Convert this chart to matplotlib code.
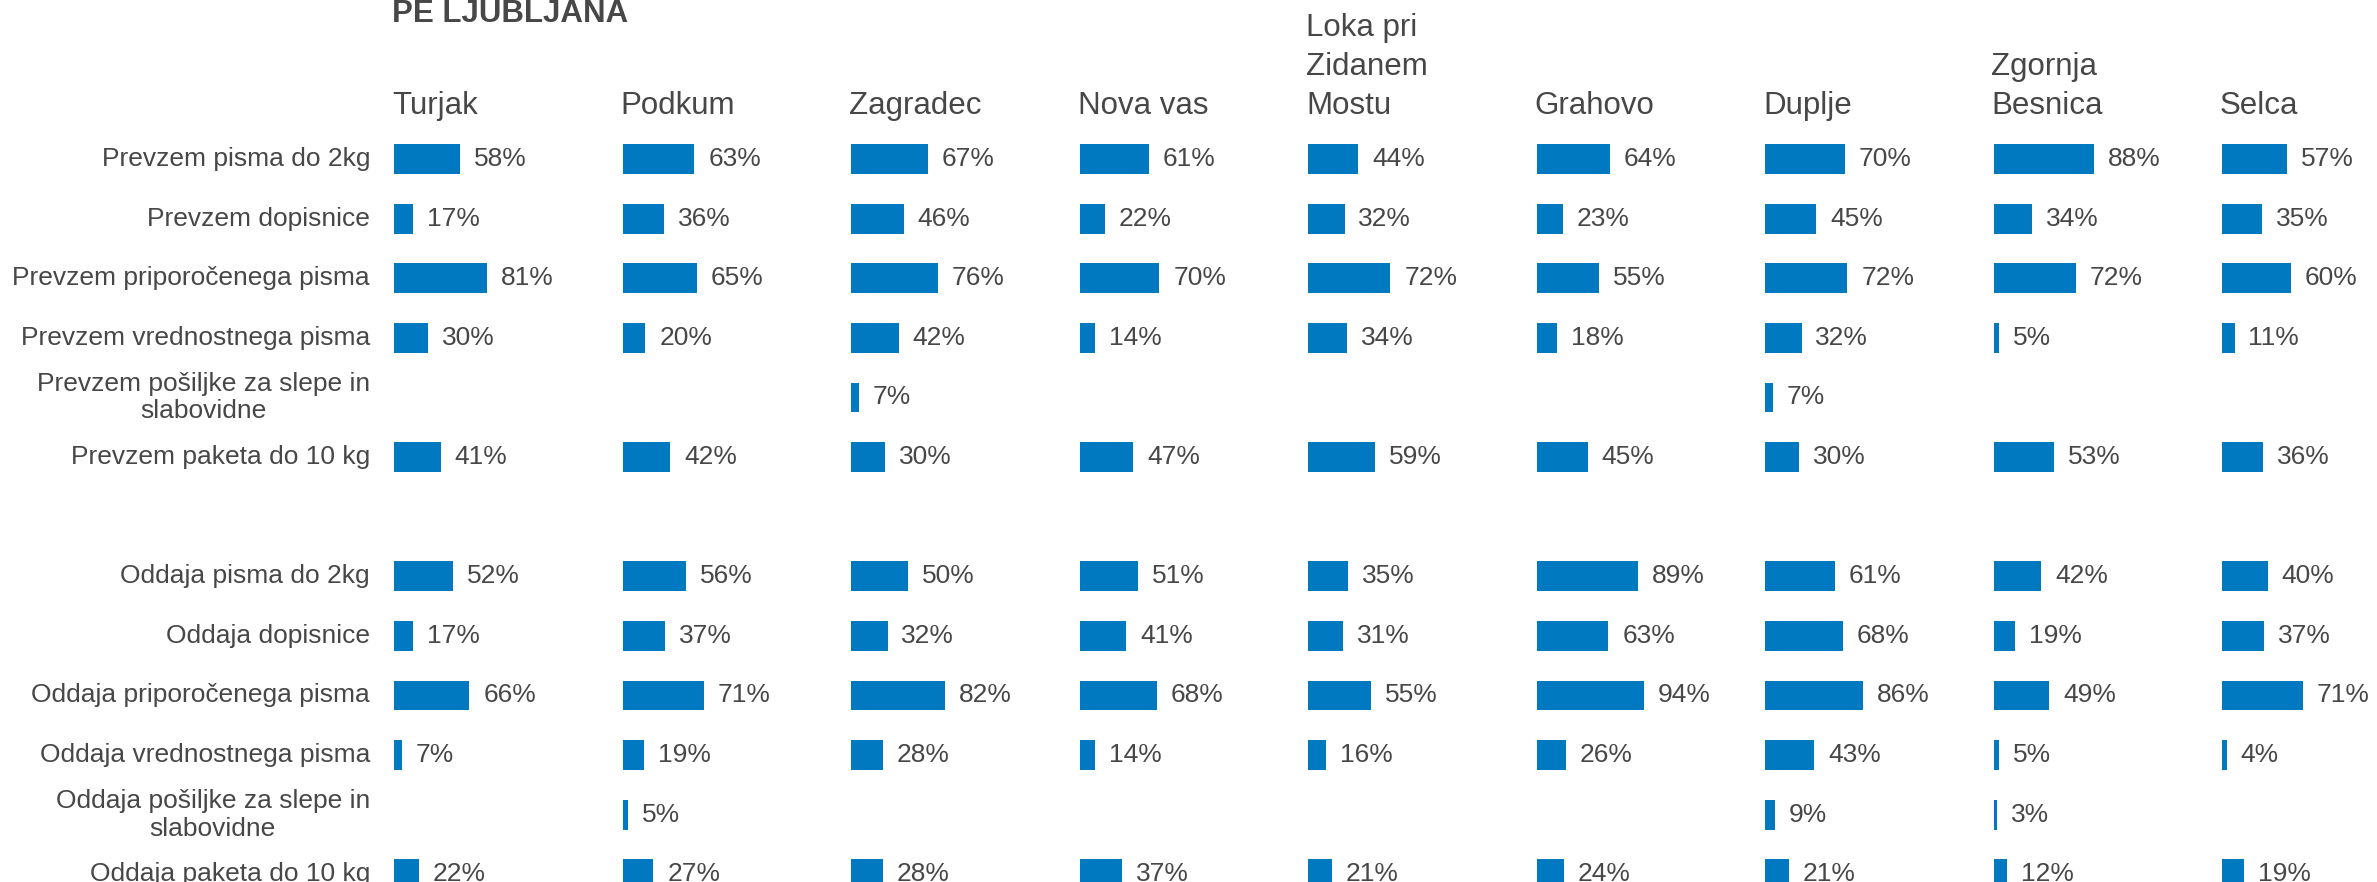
import numpy as np
import matplotlib.pyplot as plt

plt.rcParams['font.family'] = ['Liberation Sans', 'DejaVu Sans']

title = 'PE LJUBLJANA'

categories = [
    'Prevzem pisma do 2kg',
    'Prevzem dopisnice',
    'Prevzem priporočenega pisma',
    'Prevzem vrednostnega pisma',
    'Prevzem pošiljke za slepe in\nslabovidne',
    'Prevzem paketa do 10 kg',
    '',
    'Oddaja pisma do 2kg',
    'Oddaja dopisnice',
    'Oddaja priporočenega pisma',
    'Oddaja vrednostnega pisma',
    'Oddaja pošiljke za slepe in\nslabovidne',
    'Oddaja paketa do 10 kg',
]

locations = ['Turjak', 'Podkum', 'Zagradec', 'Nova vas', 'Loka pri\nZidanem\nMostu',
             'Grahovo', 'Duplje', 'Zgornja\nBesnica', 'Selca']

nan = np.nan
turjak   = [58, 17, 81, 30, nan, 41, nan, 52, 17, 66, 7, nan, 22]
podkum   = [63, 36, 65, 20, nan, 42, nan, 56, 37, 71, 19, 5, 27]
zagradec = [67, 46, 76, 42, 7, 30, nan, 50, 32, 82, 28, nan, 28]
nova_vas = [61, 22, 70, 14, nan, 47, nan, 51, 41, 68, 14, nan, 37]
loka     = [44, 32, 72, 34, nan, 59, nan, 35, 31, 55, 16, nan, 21]
grahovo  = [64, 23, 55, 18, nan, 45, nan, 89, 63, 94, 26, nan, 24]
duplje   = [70, 45, 72, 32, 7, 30, nan, 61, 68, 86, 43, 9, 21]
besnica  = [88, 34, 72, 5, nan, 53, nan, 42, 19, 49, 5, 3, 12]
selca    = [57, 35, 60, 11, nan, 36, nan, 40, 37, 71, 4, nan, 19]

series = [turjak, podkum, zagradec, nova_vas, loka, grahovo, duplje, besnica, selca]

BLUE = '#0079C1'
GREY = '#474747'

W, H = 2377, 882
fig = plt.figure(figsize=(W / 100, H / 100), dpi=100)

# layout in pixels
x0 = 394          # left edge of first panel
step = 228.5      # panel spacing
row0 = 159        # centre of first row from top
drow = 59.6       # row spacing
xmax = 2.0        # panel width in fraction units (1.0 = 100 %)

ylim = ((H - row0) / drow, -row0 / drow)
ypos = np.arange(len(categories))

for i, (loc, vals) in enumerate(zip(locations, series)):
    left = x0 + i * step
    ax = fig.add_axes([left / W, 0, step / W, 1])
    ax.set_xlim(0, xmax)
    ax.set_ylim(*ylim)
    ax.axis('off')
    v = np.array(vals, dtype=float) / 100
    bars = ax.barh(ypos, v, height=0.5, color=BLUE)
    labels = ['' if np.isnan(x) else f'{x:.0f}%' for x in vals]
    ax.bar_label(bars, labels=labels, padding=10, color=GREY, fontsize=19)

    # column header, drawn line by line from the bottom
    lines = loc.split('\n')
    for k, line in enumerate(reversed(lines)):
        yb = 114 - k * 39
        fig.text((left - 2) / W, 1 - yb / H, line, ha='left', va='baseline',
                 fontsize=22.5, color=GREY)

    if i == 0:
        for y, cat in zip(ypos, categories):
            ax.text(-24 / (step / xmax), y, cat, ha='right', va='center',
                    multialignment='center', fontsize=19, color=GREY)

fig.text((x0 - 2) / W, 1 - 22 / H, title, ha='left', va='baseline',
         fontsize=22.5, fontweight='bold', color=GREY)

fig.savefig('out.png', dpi=100)
